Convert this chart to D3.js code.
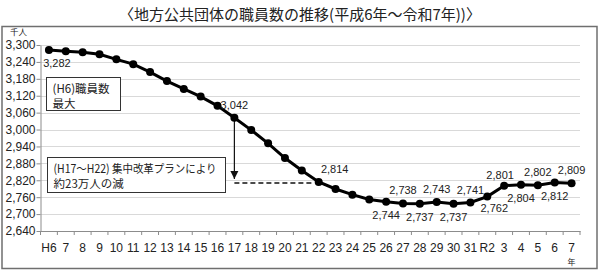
<!DOCTYPE html>
<html>
<head>
<meta charset="utf-8">
<script src="https://cdn.jsdelivr.net/npm/d3@7"></script>
<style>
body { margin: 0; background: #fff; }
text { fill: #222; }
</style>
</head>
<body>
<script>
let width = 600;
let height = 277;

let categories = ['H6','7','8','9','10','11','12','13','14','15','16','17','18','19','20',
  '21','22','23','24','25','26','27','28','29','30','31','R2','3','4','5','6','7'];
let keys = categories.map((c, i) => i);
let staff = [3282, 3278, 3274, 3267, 3249, 3232, 3204, 3172, 3144, 3117, 3084, 3042, 2998, 2951, 2899,
  2855, 2814, 2789, 2769, 2752, 2744, 2738, 2737, 2743, 2737, 2741, 2762, 2801, 2804, 2802, 2812, 2809];
let yTicks = [2640, 2700, 2760, 2820, 2880, 2940, 3000, 3060, 3120, 3180, 3240, 3300];
let titleText = '〈地方公共団体の職員数の推移(平成6年～令和7年))〉';
let note1 = ['(H6)職員数', '最大'];
let note2 = ['(H17～H22) 集中改革プランにより', '約23万人の減'];

// which points get a label and where
let labelPos = {0: 'br', 11: 'a', 16: 'ar', 20: 'b', 21: 'a', 22: 'b', 23: 'a', 24: 'b', 25: 'a',
  26: 'b2', 27: 'a2', 28: 'b', 29: 'a', 30: 'b', 31: 'a'};

let numFont = "'Liberation Sans Narrow', 'Liberation Sans', sans-serif";
let jpFont = "'Noto Sans CJK JP', sans-serif";

let svg = d3.select('body').append('svg')
  .attr('width', width)
  .attr('height', height);

let x = d3.scaleBand().domain(keys).range([40.5, 580]);
let y = d3.scaleLinear().domain([2640, 3300]).range([231, 45]);
let cx = i => x(i) + x.bandwidth() / 2;

svg.append('text')
  .attr('x', 300).attr('y', 20)
  .attr('text-anchor', 'middle')
  .style('font-family', jpFont)
  .style('font-size', '15px')
  .text(titleText);

svg.append('rect')
  .attr('x', 2).attr('y', 26.5)
  .attr('width', 595).attr('height', 242)
  .attr('fill', 'none')
  .attr('stroke', '#6f6f6f')
  .attr('stroke-width', 1.5);

// grid
svg.append('g')
  .selectAll('line')
  .data(yTicks.slice(1))
  .enter()
  .append('line')
  .attr('x1', 40.5).attr('x2', 580)
  .attr('y1', d => Math.round(y(d)) + 0.5)
  .attr('y2', d => Math.round(y(d)) + 0.5)
  .attr('stroke', '#d9d9d9')
  .attr('stroke-width', 1);

// y axis
let yAxis = svg.append('g')
  .attr('transform', 'translate(40.5,0)')
  .call(d3.axisLeft(y).tickValues(yTicks).tickFormat(d3.format(',')).tickSize(4).tickSizeOuter(0));
yAxis.select('.domain').attr('stroke', '#8c8c8c');
yAxis.selectAll('.tick line').attr('stroke', '#8c8c8c');
yAxis.selectAll('.tick text')
  .attr('x', -5)
  .style('font-family', numFont)
  .style('font-size', '12px')
  .attr('fill', '#222');

svg.append('text')
  .attr('x', 10).attr('y', 35)
  .style('font-family', jpFont)
  .style('font-size', '8.5px')
  .text('千人');

// x axis
let xAxis = svg.append('g')
  .attr('transform', 'translate(0,' + y(2640) + ')')
  .call(d3.axisBottom(x).tickFormat(i => categories[i]).tickSize(0).tickSizeOuter(0));
xAxis.select('.domain').attr('stroke', '#8c8c8c');
xAxis.selectAll('.tick text')
  .attr('y', 12)
  .style('font-family', numFont)
  .style('font-size', '12px')
  .attr('fill', '#222');
xAxis.selectAll('.bound')
  .data(keys.concat([keys.length]))
  .enter()
  .append('line')
  .attr('class', 'bound')
  .attr('x1', i => (i < keys.length ? x(i) : 580))
  .attr('x2', i => (i < keys.length ? x(i) : 580))
  .attr('y1', 0).attr('y2', 4)
  .attr('stroke', '#8c8c8c');

svg.append('text')
  .attr('x', cx(31)).attr('y', 265)
  .attr('text-anchor', 'middle')
  .style('font-family', jpFont)
  .style('font-size', '8px')
  .text('年');

// annotation boxes
function noteBox(x0, y0, w, h, lines, fit) {
  svg.append('rect')
    .attr('x', x0).attr('y', y0)
    .attr('width', w).attr('height', h)
    .attr('fill', '#fff')
    .attr('stroke', '#333')
    .attr('stroke-width', 1);
  let t = svg.append('g')
    .selectAll('text')
    .data(lines)
    .enter()
    .append('text')
    .style('font-family', jpFont)
    .style('font-size', '11.5px')
    .attr('x', x0 + 6)
    .attr('y', (d, i) => y0 + 15 + i * 15)
    .text(d => d);
  if (fit) {
    t.filter((d, i) => i == 0)
      .attr('textLength', fit)
      .attr('lengthAdjust', 'spacingAndGlyphs');
  }
}
noteBox(46.5, 77.5, 74, 33, note1);
noteBox(47.5, 157.5, 178, 35, note2, 163);

// arrow + dashed line
svg.append('defs').append('marker')
  .attr('id', 'head')
  .attr('viewBox', '0 0 10 10')
  .attr('refX', 10).attr('refY', 5)
  .attr('markerWidth', 7).attr('markerHeight', 7)
  .attr('orient', 'auto')
  .append('path')
  .attr('d', 'M0,0L10,5L0,10z')
  .attr('fill', '#111');

svg.append('line')
  .attr('x1', cx(11)).attr('x2', cx(11))
  .attr('y1', y(staff[11])).attr('y2', y(staff[16]) - 3)
  .attr('stroke', '#111')
  .attr('stroke-width', 1.2)
  .attr('marker-end', 'url(#head)');

svg.append('line')
  .attr('x1', cx(11)).attr('x2', cx(16) - 5)
  .attr('y1', y(staff[16]) + 1).attr('y2', y(staff[16]) + 1)
  .attr('stroke', '#111')
  .attr('stroke-width', 1.5)
  .attr('stroke-dasharray', '5,3');

// line
let line = d3.line()
  .x((d, i) => cx(i))
  .y(d => y(d));

svg.append('path')
  .datum(staff)
  .attr('d', line)
  .attr('fill', 'none')
  .attr('stroke', '#000')
  .attr('stroke-width', 3);

svg.append('g')
  .selectAll('circle')
  .data(staff)
  .enter()
  .append('circle')
  .attr('cx', (d, i) => cx(i))
  .attr('cy', d => y(d))
  .attr('r', 4)
  .attr('fill', '#000');

// data labels
let offsets = {a: [0, -9], b: [0, 17], br: [8, 17], ar: [16, -9], b2: [7, 15], a2: [-4, -7]};
svg.append('g')
  .selectAll('text')
  .data(Object.keys(labelPos).map(Number))
  .enter()
  .append('text')
  .attr('x', i => cx(i) + offsets[labelPos[i]][0])
  .attr('y', i => y(staff[i]) + offsets[labelPos[i]][1])
  .attr('text-anchor', 'middle')
  .style('font-family', numFont)
  .style('font-size', '11px')
  .text(i => d3.format(',')(staff[i]));
</script>
</body>
</html>
